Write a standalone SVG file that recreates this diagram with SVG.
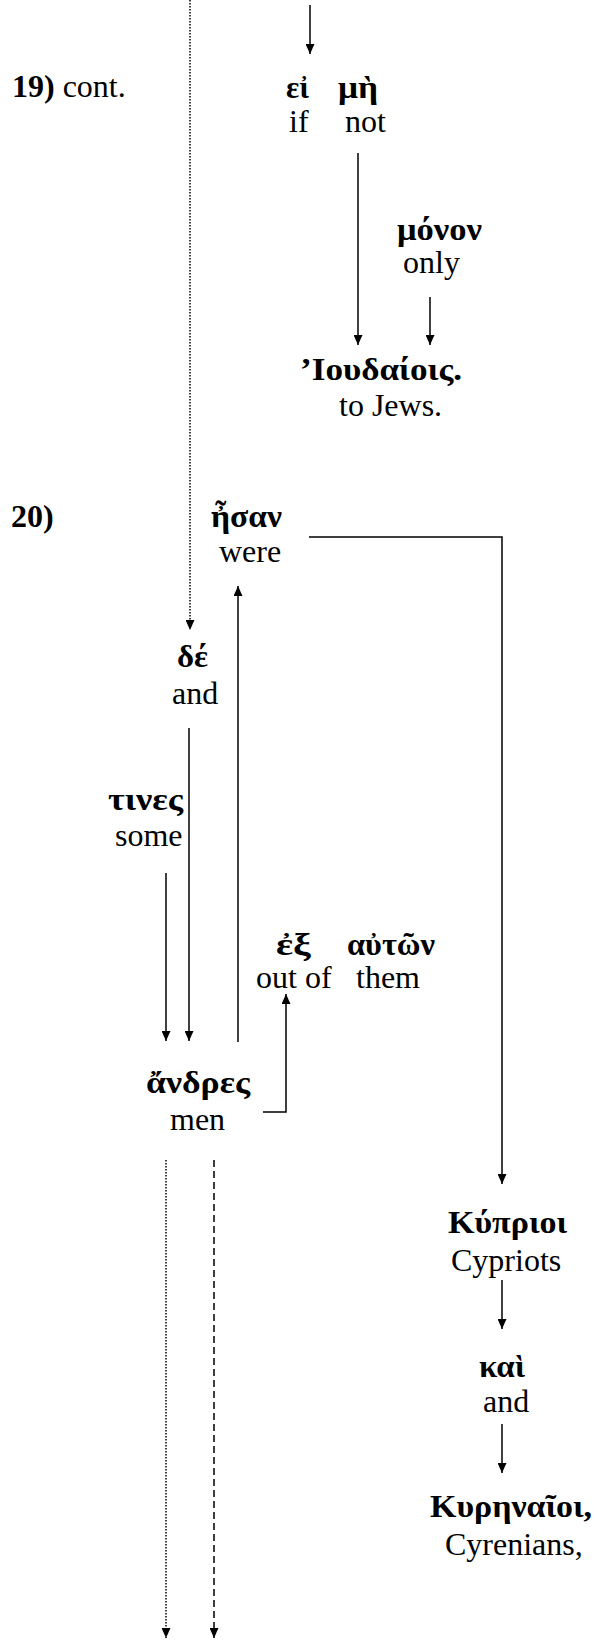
<svg xmlns="http://www.w3.org/2000/svg" width="594" height="1640" viewBox="0 0 594 1640">
<defs>
<marker id="ah" markerUnits="userSpaceOnUse" markerWidth="10" markerHeight="9" refX="10" refY="4.5" orient="auto">
<path d="M0,0 L10,4.5 L0,9 z" fill="#000"/>
</marker>
<style>
.en{font-family:"Liberation Serif","Times New Roman",serif;font-size:32px;fill:#000}
.gr{font-family:"Liberation Serif","DejaVu Serif",serif;font-size:31px;font-weight:bold;fill:#000}
.ln{fill:none;stroke:#000;stroke-width:1.5}
.ar{marker-end:url(#ah)}
.dot{stroke-dasharray:1.5,1.5}
.dash{stroke-dasharray:7,4}
</style>
</defs>
<rect width="594" height="1640" fill="#fff"/>
<g id="connectors">
<line class="ln ar" x1="310" y1="5" x2="310" y2="54"/>
<line class="ln ar dot" x1="190" y1="0" x2="190" y2="630"/>
<line class="ln ar" x1="358" y1="153" x2="358" y2="345"/>
<line class="ln ar" x1="430" y1="297" x2="430" y2="345"/>
<polyline class="ln ar" points="309,537 502,537 502,1184"/>
<line class="ln ar" x1="238" y1="1042" x2="238" y2="586"/>
<line class="ln ar" x1="189" y1="728" x2="189" y2="1041"/>
<line class="ln ar" x1="166" y1="873" x2="166" y2="1041"/>
<polyline class="ln ar" points="263,1112 286,1112 286,994"/>
<line class="ln ar" x1="502" y1="1280" x2="502" y2="1329"/>
<line class="ln ar" x1="502" y1="1424" x2="502" y2="1473"/>
<line class="ln ar dot" x1="166" y1="1160" x2="166" y2="1638"/>
<line class="ln ar dash" x1="214" y1="1160" x2="214" y2="1638"/>
</g>
<g id="label19"><text class="en" x="12" y="97"><tspan font-weight="bold">19)</tspan> cont.</text></g>
<g id="label20"><text class="en" x="11" y="527" font-weight="bold">20)</text></g>
<g id="ei-me">
<text class="gr" x="286" y="98">εἰ</text><text class="gr" x="338" y="98" textLength="40" lengthAdjust="spacingAndGlyphs">μὴ</text>
<text class="en" x="289" y="132">if</text><text class="en" x="345" y="132">not</text>
</g>
<g id="monon">
<text class="gr" x="397" y="240" textLength="85" lengthAdjust="spacingAndGlyphs">μόνον</text>
<text class="en" x="403" y="273">only</text>
</g>
<g id="ioudaiois">
<text class="gr" x="300" y="380" textLength="162" lengthAdjust="spacingAndGlyphs">’Ιουδαίοις.</text>
<text class="en" x="339" y="416">to Jews.</text>
</g>
<g id="esan">
<text class="gr" x="211" y="527" textLength="71" lengthAdjust="spacingAndGlyphs">ἦσαν</text>
<text class="en" x="219" y="562">were</text>
</g>
<g id="de">
<text class="gr" x="177" y="667" textLength="31" lengthAdjust="spacingAndGlyphs">δέ</text>
<text class="en" x="172" y="704">and</text>
</g>
<g id="tines">
<text class="gr" x="108" y="810" textLength="75" lengthAdjust="spacingAndGlyphs">τινες</text>
<text class="en" x="115" y="846">some</text>
</g>
<g id="ex-auton">
<text class="gr" x="276" y="955" textLength="35" lengthAdjust="spacingAndGlyphs">ἐξ</text><text class="gr" x="347" y="955" textLength="88" lengthAdjust="spacingAndGlyphs">αὐτῶν</text>
<text class="en" x="256" y="988">out of</text><text class="en" x="356" y="988">them</text>
</g>
<g id="andres">
<text class="gr" x="146" y="1093" textLength="104" lengthAdjust="spacingAndGlyphs">ἄνδρες</text>
<text class="en" x="170" y="1130">men</text>
</g>
<g id="kyprioi">
<text class="gr" x="448" y="1233" textLength="119" lengthAdjust="spacingAndGlyphs">Κύπριοι</text>
<text class="en" x="451" y="1271">Cypriots</text>
</g>
<g id="kai">
<text class="gr" x="479" y="1377" textLength="46" lengthAdjust="spacingAndGlyphs">καὶ</text>
<text class="en" x="483" y="1412">and</text>
</g>
<g id="kyrenaioi">
<text class="gr" x="430" y="1517" textLength="162" lengthAdjust="spacingAndGlyphs">Κυρηναῖοι,</text>
<text class="en" x="445" y="1555">Cyrenians,</text>
</g>
</svg>
